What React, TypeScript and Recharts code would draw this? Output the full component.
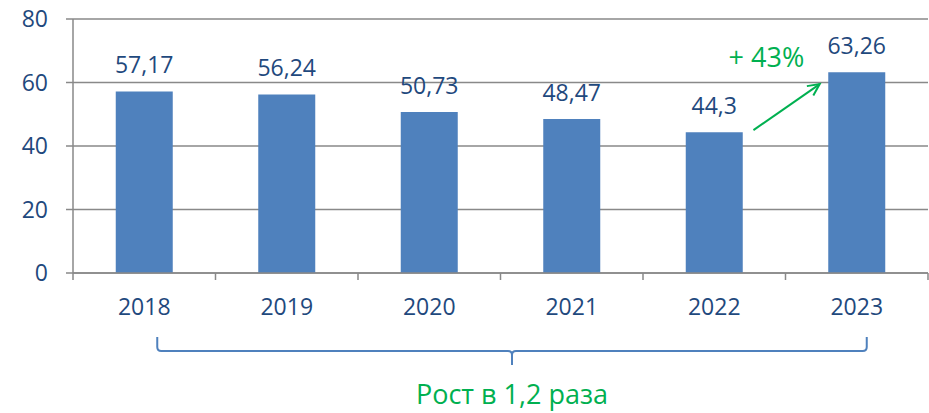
import React from "react";
import {
  BarChart,
  Bar,
  XAxis,
  YAxis,
  CartesianGrid,
  LabelList,
  ReferenceLine,
} from "recharts";

const years = ["2018", "2019", "2020", "2021", "2022", "2023"];
const values = [57.17, 56.24, 50.73, 48.47, 44.3, 63.26];
const yTicks = [0, 20, 40, 60, 80];
const growthText = "+ 43%";
const bracketText = "Рост в 1,2 раза";
// arrow runs between 2022 and 2023, bracket spans all years (values in y units)
const arrowYears = ["2022", "2023"];
const arrowLevels = [45, 59.5];
const bracketLevel = -24.6;

const data = years.map((year, i) => ({ year, value: values[i] }));

const W = 929;
const H = 413;
const M = { top: 19, right: 1, left: 0, bottom: 100 };
const Y_WIDTH = 73;
const HALF_BAND = (W - Y_WIDTH - M.right) / years.length / 2;

const BLUE = "#4F81BD";
const TEXT = "#1F497D";
const GRID = "#898989";
const GREEN = "#00B050";
const FONT = "'Open Sans', sans-serif";

const fmt = (v: any) => String(v).replace(".", ",");

function XTick(props: any) {
  const { x, y, payload, index, visibleTicksCount } = props;
  const axisY = y - 19 - 7;
  return (
    <g>
      <line x1={x - HALF_BAND} y1={axisY} x2={x - HALF_BAND} y2={axisY + 7} stroke={GRID} strokeWidth={1.5} />
      {index === visibleTicksCount - 1 && (
        <line x1={x + HALF_BAND} y1={axisY} x2={x + HALF_BAND} y2={axisY + 7} stroke={GRID} strokeWidth={1.5} />
      )}
      <text x={x} y={y} dy="0.71em" textAnchor="middle" fill={TEXT} fontSize={23} fontFamily={FONT}>
        {payload.value}
      </text>
    </g>
  );
}

function Arrow(props: any) {
  const { x1, y1, x2, y2 } = props;
  const dx = x2 - x1;
  const sx = x1 + dx * 0.275;
  const ex = x2 - dx * 0.26;
  const ang = Math.atan2(y2 - y1, ex - sx);
  const h = 13;
  const a1 = ang + Math.PI - 0.45;
  const a2 = ang + Math.PI + 0.45;
  return (
    <g>
      <line x1={sx} y1={y1} x2={ex} y2={y2} stroke={GREEN} strokeWidth={2} />
      <polyline
        points={`${ex + h * Math.cos(a1)},${y2 + h * Math.sin(a1)} ${ex},${y2} ${ex + h * Math.cos(a2)},${y2 + h * Math.sin(a2)}`}
        fill="none"
        stroke={GREEN}
        strokeWidth={2}
      />
      <text x={sx + 13} y={y2 - 17} textAnchor="middle" fill={GREEN} fontSize={27} fontFamily={FONT}>
        {growthText}
      </text>
    </g>
  );
}

function Bracket(props: any) {
  const { x1, y1, x2 } = props;
  const l = x1 + 13;
  const r = x2 + 10;
  const m = (l + r) / 2;
  const y = y1;
  const top = y - 14;
  const tip = y + 14;
  const d =
    `M${l},${top} L${l},${y - 4} Q${l},${y} ${l + 4},${y} L${m - 4},${y} Q${m},${y} ${m},${y + 4} L${m},${tip} ` +
    `M${m},${y + 4} Q${m},${y} ${m + 4},${y} L${r - 4},${y} Q${r},${y} ${r},${y - 4} L${r},${top}`;
  return (
    <g>
      <path d={d} fill="none" stroke={BLUE} strokeWidth={2} />
      <text x={m} y={y + 53} textAnchor="middle" fill={GREEN} fontSize={27} fontFamily={FONT}>
        {bracketText}
      </text>
    </g>
  );
}

export default function App() {
  return (
    <div style={{ position: "absolute", left: 0, top: 0, fontFamily: FONT }}>
      <BarChart width={W} height={H} data={data} margin={M} barCategoryGap="30%">
        <CartesianGrid vertical={false} stroke={GRID} strokeWidth={1.5} />
        <XAxis
          dataKey="year"
          axisLine={{ stroke: GRID, strokeWidth: 1.5 }}
          tickLine={false}
          tickSize={7}
          tickMargin={19}
          height={40}
          tick={<XTick />}
          interval={0}
        />
        <YAxis
          width={Y_WIDTH}
          domain={[0, 80]}
          ticks={yTicks}
          axisLine={{ stroke: GRID, strokeWidth: 1.5 }}
          tickLine={{ stroke: GRID, strokeWidth: 1.5 }}
          tickSize={7}
          tickMargin={18}
          tick={{ fill: TEXT, fontSize: 23, fontFamily: FONT }}
        />
        <Bar dataKey="value" fill={BLUE} isAnimationActive={false}>
          <LabelList
            dataKey="value"
            position="top"
            offset={18}
            formatter={fmt}
            fill={TEXT}
            fontSize={23}
            fontFamily={FONT}
          />
        </Bar>
        <ReferenceLine
          segment={[
            { x: arrowYears[0], y: arrowLevels[0] },
            { x: arrowYears[1], y: arrowLevels[1] },
          ]}
          ifOverflow="visible"
          shape={Arrow}
        />
        <ReferenceLine
          segment={[
            { x: years[0], y: bracketLevel },
            { x: years[years.length - 1], y: bracketLevel },
          ]}
          ifOverflow="visible"
          shape={Bracket}
        />
      </BarChart>
    </div>
  );
}
